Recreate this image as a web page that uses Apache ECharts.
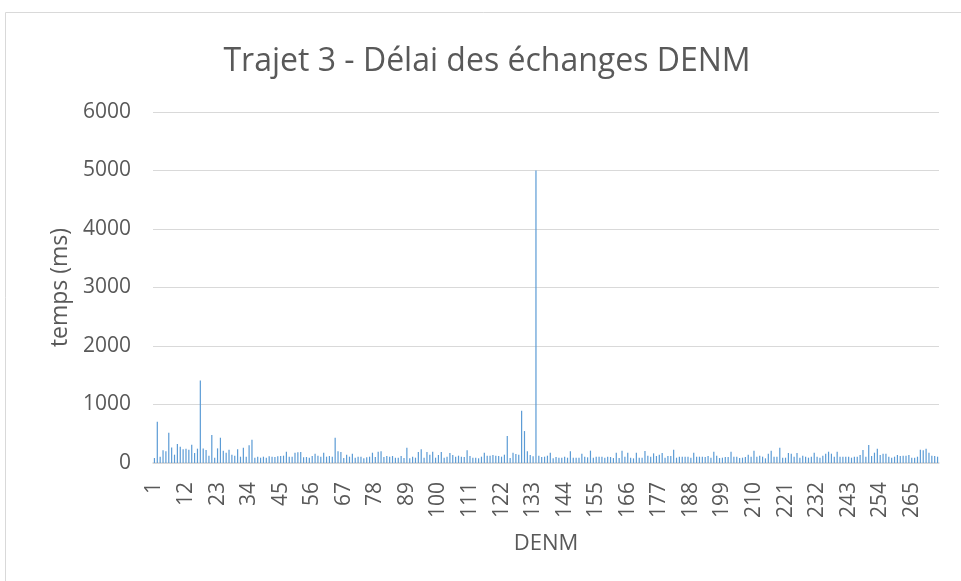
<!DOCTYPE html>
<html>
<head>
<meta charset="utf-8">
<script src="https://cdn.jsdelivr.net/npm/echarts@6/dist/echarts.min.js"></script>
<style>
html,body{margin:0;padding:0;background:#fff;}
#chart{width:961px;height:581px;}
</style>
</head>
<body>
<div id="chart"></div>
<script>
const titleText = "Trajet 3 - Délai des échanges DENM";
const xAxisTitle = "DENM";
const yAxisTitle = "temps (ms)";
const yTicks = [0, 1000, 2000, 3000, 4000, 5000, 6000];

const values1 = [85,705,108,216,200,518,267,142,324,279,233,245,228,313,171,245,1410,250,222,125,
478,91,250,432,211,176,228,142,125,233,108,262,108,302,398,91,108,91,108,91,
114,108,102,114,119,125,193,108,108,176,182,188,97,102,91,119,159,125,108,176,
108,119,108,432,200];
const values2 = [188,85,142,108,159,91,108,108,80,97,108,176,102,193,200,102,119,108,119,91,
91,119,85,262,80,108,91,188,233,91,188,142,193,91,137,188,91,108,171,137,
108,125,108,102,216,119,91,91,80,108,176,125,125,137,125,119,108,142,461,85,
176,154,142,893,546,200,137,114,5000];
const values3 = [125,102,108,125,176,80,102,91,91,108,91,200,91,91,91,159,108,97,211,91,
108,108,108,91,108,102,85,176,85,211,108,176,91,80,176,91,91,205,125,108,
165,119,142,171,91,119,119,228,91,108,108,108,108,91,176,108,108,108,102,119,
91,193,125,85,91,102,102,193,108,108,85];
const values4 = [91,102,142,108,211,108,125,108,80,159,211,108,108,262,91,91,171,159,108,171,
91,125,108,91,108,176,108,91,125,159,193,159,108,193,108,108,108,108,91,108,
108,137,222,108,307,119,176,245,137,159,159,108,91,108,137,119,125,125,137,91,
91,108,228,216,245,176,125,119,108];

const values = values1.concat(values2, values3, values4);
const categories = values.map((v, i) => String(i + 1));

const chart = echarts.init(document.getElementById('chart'));
const font = '"Open Sans", "Noto Sans", sans-serif';
chart.setOption({
  animation: false,
  backgroundColor: '#fff',
  graphic: [{
    type: 'rect',
    shape: {x: 5.5, y: 12.5, width: 1000, height: 700},
    style: {fill: 'none', stroke: '#D9D9D9', lineWidth: 1},
    silent: true
  }],
  title: {
    text: titleText,
    left: 482, textAlign: 'center',
    top: 41,
    textStyle: {fontFamily: font, fontSize: 32, fontWeight: 'normal', color: '#595959'}
  },
  grid: {left: 153, right: 22, top: 112, bottom: 118},
  xAxis: {
    type: 'category',
    data: categories,
    name: xAxisTitle,
    nameLocation: 'middle',
    nameGap: 70,
    nameTextStyle: {fontFamily: font, fontSize: 22, color: '#595959'},
    axisLine: {lineStyle: {color: '#D9D9D9', width: 1.5}},
    axisTick: {show: false},
    axisLabel: {interval: 10, rotate: 90, margin: 19, fontFamily: font, fontSize: 21, color: '#595959'}
  },
  yAxis: {
    type: 'value',
    min: 0, max: 6000, interval: 1000,
    name: yAxisTitle,
    nameLocation: 'middle',
    nameGap: 80,
    nameTextStyle: {fontFamily: font, fontSize: 23, color: '#595959'},
    axisLine: {show: false},
    axisTick: {show: false},
    axisLabel: {margin: 22, fontFamily: font, fontSize: 21, color: '#595959',
      formatter: v => yTicks.includes(v) ? String(v) : ''},
    splitLine: {lineStyle: {color: '#D9D9D9', width: 1}}
  },
  series: [{
    type: 'bar',
    data: values,
    barWidth: 1.2,
    itemStyle: {color: '#5B9BD5'}
  }]
});
</script>
</body>
</html>
